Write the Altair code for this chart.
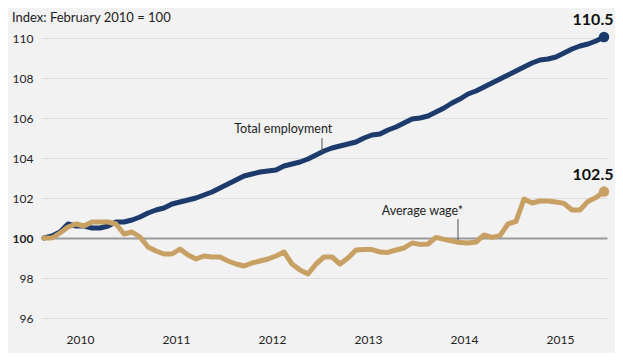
import altair as alt
import pandas as pd

# month index: 1 = February 2010 ... 71 = December 2015
months = list(range(1, 72))

employment = [
    100.0, 100.1, 100.3, 100.7, 100.6, 100.6, 100.5, 100.5, 100.6, 100.8,
    100.8, 100.9, 101.05, 101.25, 101.4, 101.5, 101.7, 101.8, 101.9, 102.0,
    102.15, 102.3, 102.5, 102.7, 102.9, 103.1, 103.2, 103.3, 103.35, 103.4,
    103.6, 103.7, 103.8, 103.95, 104.15, 104.35, 104.5, 104.6, 104.7, 104.8,
    105.0, 105.15, 105.2, 105.4, 105.55, 105.75, 105.95, 106.0, 106.1, 106.3,
    106.5, 106.75, 106.95, 107.2, 107.35, 107.55, 107.75, 107.95, 108.15, 108.35,
    108.55, 108.75, 108.9, 108.95, 109.05, 109.25, 109.45, 109.6, 109.7, 109.85,
    110.05,
]

wage = [
    100.0, 100.0, 100.25, 100.55, 100.7, 100.6, 100.8, 100.8, 100.8, 100.7,
    100.2, 100.3, 100.05, 99.55, 99.35, 99.2, 99.2, 99.45, 99.15, 98.95,
    99.1, 99.05, 99.05, 98.85, 98.7, 98.6, 98.75, 98.85, 98.95, 99.1,
    99.3, 98.7, 98.4, 98.2, 98.7, 99.05, 99.05, 98.7, 99.0, 99.4,
    99.42, 99.42, 99.3, 99.28, 99.4, 99.5, 99.75, 99.68, 99.7, 100.03,
    99.93, 99.85, 99.77, 99.75, 99.8, 100.15, 100.03, 100.12, 100.7, 100.83,
    101.95, 101.75, 101.85, 101.85, 101.8, 101.73, 101.4, 101.4, 101.83, 102.03,
    102.32,
]

series_names = ["Total employment", "Average wage*"]
series_colors = ["#1d3a6d", "#c9a063"]
end_labels = ["110.5", "102.5"]

y_ticks = [96, 98, 100, 102, 104, 106, 108, 110]
year_ticks = [5.5, 17.5, 29.5, 41.5, 53.5, 65.5]  # mid-year positions, labelled 2010..2015

title_text = ["Index: February 2010 = 100"]

# annotation placement (month index, index value)
ann_text = ["Total employment", "Average wage*"]
ann_x = [30.9, 48.3]
ann_y = [105.45, 101.35]
lead_x = [35.75, 52.75]
lead_y1 = [105.0, 100.95]
lead_y2 = [104.3, 99.9]

FONT = "Lato"

df = pd.DataFrame({
    "m": months * 2,
    "v": employment + wage,
    "s": [series_names[0]] * len(months) + [series_names[1]] * len(months),
})
ends = pd.DataFrame({
    "m": [months[-1], months[-1]],
    "v": [employment[-1], wage[-1]],
    "s": series_names,
    "lab": end_labels,
})
ann = pd.DataFrame({"t": ann_text, "x": ann_x, "y": ann_y,
                    "lx": lead_x, "ly1": lead_y1, "ly2": lead_y2})
ttl = pd.DataFrame({"t": title_text})

xscale = alt.Scale(domain=[0.625, 71.375], nice=False, zero=False)
yscale = alt.Scale(domain=[95.5, 110.5], nice=False, zero=False)
color = alt.Color("s:N", scale=alt.Scale(domain=series_names, range=series_colors), legend=None)

x_enc = alt.X("m:Q", scale=xscale, axis=alt.Axis(
    values=year_ticks, labelExpr="'' + (2010 + floor(datum.value / 12))",
    title=None, grid=False, domain=False, ticks=False, labelPadding=6,
    labelFontSize=12, labelColor="#222", labelFont=FONT))
y_enc = alt.Y("v:Q", scale=yscale, axis=alt.Axis(
    values=y_ticks, title=None, domain=False, ticks=False, labelPadding=8,
    labelFontSize=12, labelColor="#222", labelFont=FONT,
    labelFontWeight={"condition": {"test": "datum.value === 100", "value": "bold"}, "value": "normal"},
    gridColor={"condition": {"test": "datum.value === 100", "value": "#9a9a9a"}, "value": "#dcdcdc"},
    gridWidth={"condition": {"test": "datum.value === 100", "value": 2}, "value": 1.2}))

emp_line = alt.Chart(df[df.s == series_names[0]]).mark_line(
    strokeWidth=5, strokeJoin="round", strokeCap="round").encode(x=x_enc, y=y_enc, color=color)
wage_line = alt.Chart(df[df.s == series_names[1]]).mark_line(
    strokeWidth=5, strokeJoin="round", strokeCap="round").encode(x="m:Q", y="v:Q", color=color)

dots = alt.Chart(ends).mark_circle(size=110, opacity=1).encode(x="m:Q", y="v:Q", color=color)
end_text = alt.Chart(ends).mark_text(font=FONT, fontSize=16, fontWeight="bold", color="#111",
                                     dy=-17, dx=-11).encode(x="m:Q", y="v:Q", text="lab:N")

ann_txt = alt.Chart(ann).mark_text(font=FONT, fontSize=12.5, color="#222").encode(
    x="x:Q", y="y:Q", text="t:N")
ann_rule = alt.Chart(ann).mark_rule(color="#555", strokeWidth=1).encode(
    x="lx:Q", y="ly1:Q", y2="ly2:Q")

title_mark = alt.Chart(ttl).mark_text(font=FONT, fontSize=13, color="#222", align="left",
                                      baseline="middle").encode(
    x=alt.value(-29), y=alt.value(-10), text="t:N")

chart = alt.layer(emp_line, wage_line, dots, end_text, ann_rule, ann_txt, title_mark).properties(
    width=566, height=300,
    autosize=alt.AutoSizeParams(type="none"),
    padding={"left": 33, "top": 20, "right": 8, "bottom": 25},
    background="#f2f2f2",
).configure_view(stroke=None)

chart.save("out.html", embed_options={"renderer": "svg", "actions": False})
